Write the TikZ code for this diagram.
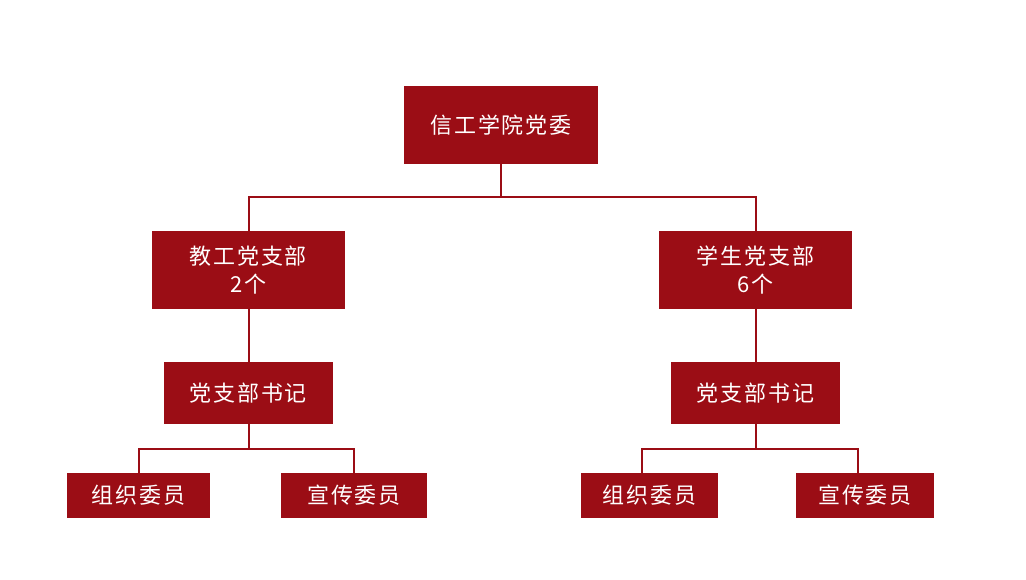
\documentclass[tikz,border=0pt]{standalone}
\usepackage{fontspec}
\newfontfamily\cjk[LetterSpace=8]{Noto Sans CJK SC}
\definecolor{partyred}{RGB}{155,13,21}
\begin{document}
\begin{tikzpicture}[x=1pt,y=-1pt,
  box/.style={draw=none,fill=partyred,text=white,inner sep=0pt,align=center,
    font=\cjk\fontsize{22pt}{28pt}\selectfont},
  link/.style={draw=partyred,line width=2pt}]
\useasboundingbox[fill=white] (0,0) rectangle (1026,579);
\node[box,minimum width=194pt,minimum height=78pt] (top) at (501,125) {信工学院党委};
\node[box,minimum width=193pt,minimum height=78pt] (ml) at (248.5,270) {教工党支部\\2个};
\node[box,minimum width=193pt,minimum height=78pt] (mr) at (755.5,270) {学生党支部\\6个};
\node[box,minimum width=169pt,minimum height=62pt] (sl) at (248.5,393) {党支部书记};
\node[box,minimum width=169pt,minimum height=62pt] (sr) at (755.5,393) {党支部书记};
\node[box,minimum width=143pt,minimum height=45pt] (bl1) at (138.5,495.5) {组织委员};
\node[box,minimum width=146pt,minimum height=45pt] (bl2) at (354,495.5) {宣传委员};
\node[box,minimum width=137pt,minimum height=45pt] (br1) at (649.5,495.5) {组织委员};
\node[box,minimum width=138pt,minimum height=45pt] (br2) at (865,495.5) {宣传委员};
\coordinate (j0) at (501,197);
\coordinate (jl) at (248.5,448.5);
\coordinate (jr) at (755.5,448.5);
\draw[link] (top.south) -- (j0) -| (ml.north);
\draw[link] (j0) -| (mr.north);
\draw[link] (ml.south) -- (sl.north);
\draw[link] (mr.south) -- (sr.north);
\draw[link] (sl.south) -- (jl) -| (bl1.north);
\draw[link] (jl) -| (bl2.north);
\draw[link] (sr.south) -- (jr) -| ([xshift=-7.8pt]br1.north);
\draw[link] (jr) -| ([xshift=-7.3pt]br2.north);
\end{tikzpicture}
\end{document}
